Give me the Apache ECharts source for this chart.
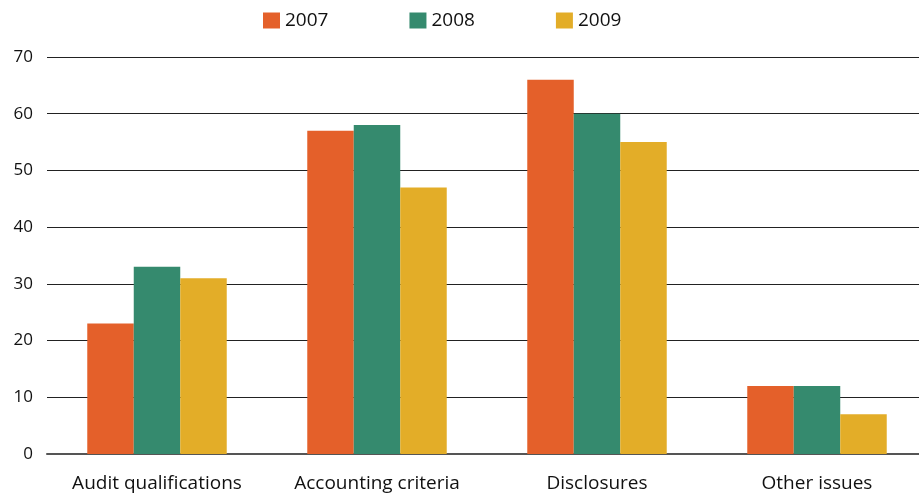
<!DOCTYPE html>
<html><head><meta charset="utf-8">
<script src="https://cdn.jsdelivr.net/npm/echarts@6/dist/echarts.min.js"></script>
<style>html,body{margin:0;padding:0;background:#fff;overflow:hidden}#c{width:940px;height:502px}</style>
</head><body><div id="c"></div>
<script>
const categories = ['Audit qualifications', 'Accounting criteria', 'Disclosures', 'Other issues'];
const years = ['2007', '2008', '2009'];
const v2007 = [23, 57, 66, 12];
const v2008 = [33, 58, 60, 12];
const v2009 = [31, 47, 55, 7];
const colors = ['#E4602A', '#358A6E', '#E3AD28'];
const yTicks = [0, 10, 20, 30, 40, 50, 60, 70];
const font = 'Open Sans';
const chart = echarts.init(document.getElementById('c'));
chart.setOption({
  animation: false,
  textStyle: {fontFamily: font},
  legend: {
    top: 6, left: 258, itemWidth: 17, itemHeight: 16, itemGap: 81, icon: 'rect',
    textStyle: {fontSize: 19, color: '#111', fontFamily: font}
  },
  grid: {left: 47, width: 880, top: 57, bottom: 48, containLabel: false},
  xAxis: {
    type: 'category', data: categories,
    axisLine: {lineStyle: {color: '#555', width: 2}},
    axisTick: {show: false},
    axisLabel: {fontSize: 19, color: '#111', margin: 20, interval: 0, fontFamily: font}
  },
  yAxis: {
    type: 'value', min: yTicks[0], max: yTicks[yTicks.length - 1], interval: 10,
    axisLine: {show: false}, axisTick: {show: false},
    axisLabel: {fontSize: 17, color: '#111', margin: 14, fontFamily: font},
    splitLine: {lineStyle: {color: '#222', width: 1}}
  },
  series: [v2007, v2008, v2009].map((d, i) => ({
    name: years[i], type: 'bar', data: d, barGap: 0, barCategoryGap: '36.6%',
    itemStyle: {color: colors[i]}
  }))
});
</script></body></html>
